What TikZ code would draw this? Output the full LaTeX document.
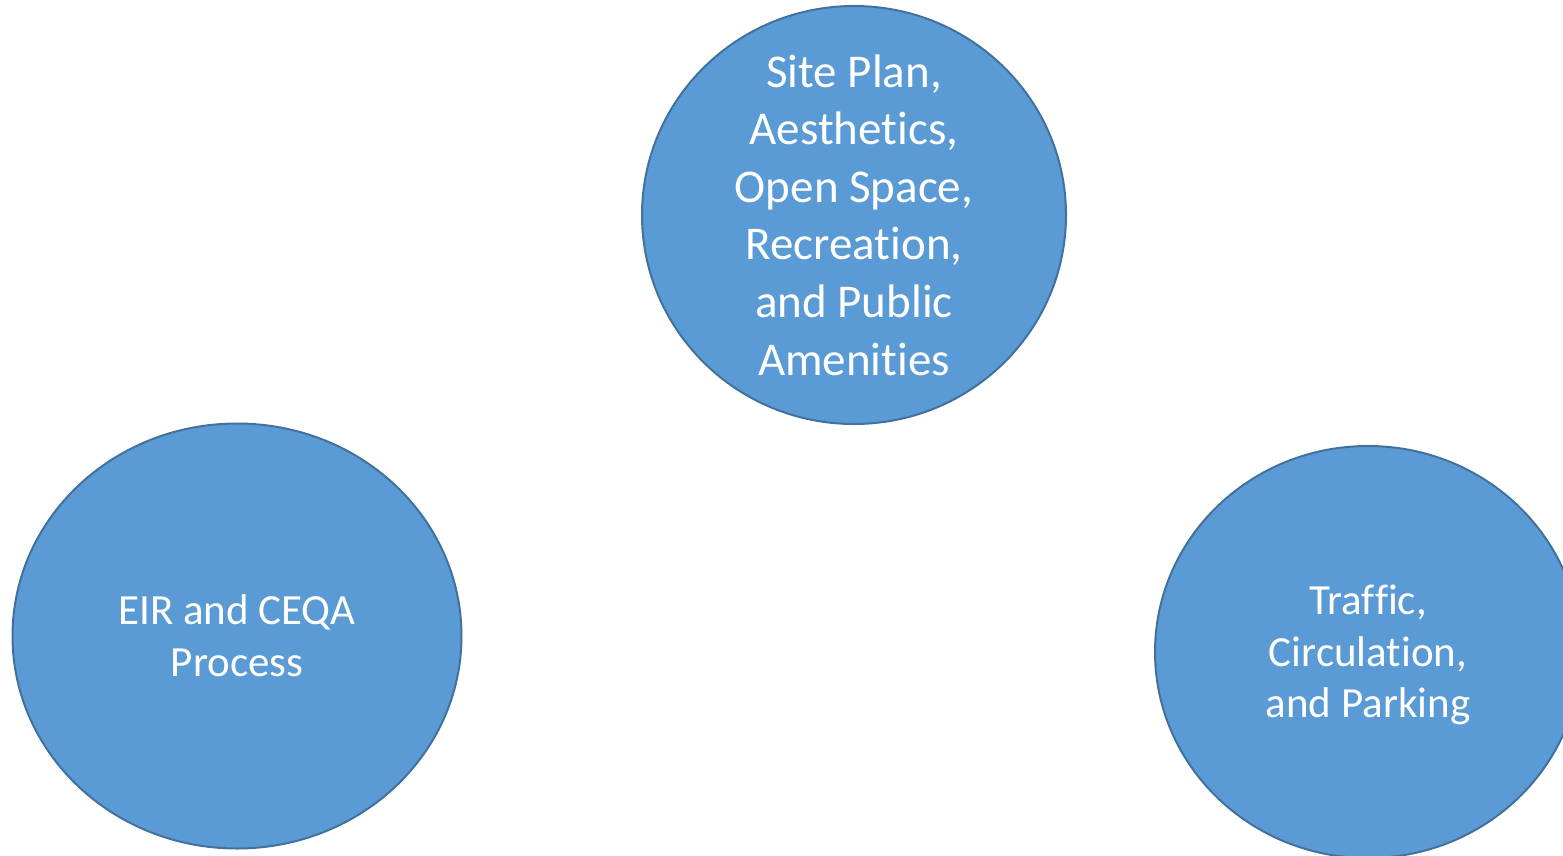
\documentclass[tikz,border=0pt]{standalone}
\usepackage{fontspec}
\setmainfont{Carlito}[Ligatures=NoCommon]
\usetikzlibrary{shapes.geometric}
\definecolor{bubblefill}{HTML}{5B9BD5}
\definecolor{bubbleedge}{HTML}{41719C}
\tikzset{
  bubble/.style={ellipse, draw=bubbleedge, line width=2pt, fill=bubblefill,
    inner sep=0pt},
  bubbletext/.style={text=white, align=center, inner sep=0pt}
}
\begin{document}
\begin{tikzpicture}[x=1pt,y=-1pt]
\useasboundingbox (0,0) rectangle (1563,855);
\begin{scope}
\clip (0,0) rectangle (1563,855);
% the three topic bubbles
\node[bubble, minimum width=424pt, minimum height=418pt] (site) at (854,215) {};
\node[bubble, minimum width=449pt, minimum height=425pt] (eir) at (237,636) {};
\node[bubble, minimum width=426pt, minimum height=412pt] (traffic) at (1368,652) {};
% their captions
\node[bubbletext, font=\fontsize{47}{57.6}\selectfont] (sitetext) at (site.center)
  {Site Plan,\\Aesthetics,\\Open Space,\\Recreation,\\and Public\\Amenities};
\node[bubbletext, font=\fontsize{43}{52}\selectfont] (eirtext) at (eir.center)
  {EIR and CEQA\\Process};
\node[bubbletext, font=\fontsize{43}{51.5}\selectfont] (traffictext)
  at ([yshift=-3pt]traffic.center)
  {Traf\kern0pt f\kern0pt ic,\\Circulation,\\and Parking};
\end{scope}
\end{tikzpicture}
\end{document}
